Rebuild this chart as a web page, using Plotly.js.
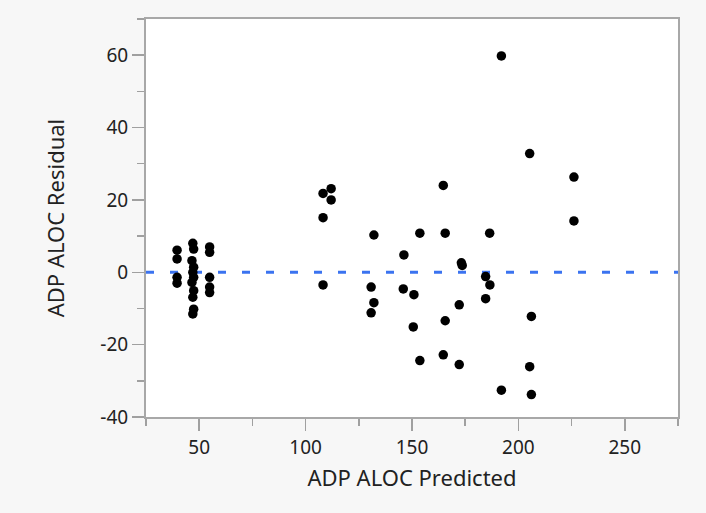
<!DOCTYPE html>
<html>
<head>
<meta charset="utf-8">
<script src="https://cdn.plot.ly/plotly-3.0.1.min.js"></script>
<style>html,body{margin:0;padding:0;background:#f7f7f7;}#chart{width:706px;height:513px;}</style>
</head>
<body>
<div id="chart"></div>
<script>
const predicted = [
  39.6, 39.6, 39.6, 39.6,
  47.0, 47.4, 46.6, 47.4, 47.0, 47.4, 46.6, 47.4, 47.0, 47.4, 47.0,
  54.9, 54.9, 54.9, 54.9, 54.9,
  108.2, 112.0, 112.0, 108.2, 108.2,
  132.1, 130.8, 132.1, 130.8,
  146.2, 145.9, 150.9, 150.6, 153.7, 153.7,
  164.7, 165.6, 172.2, 165.6, 164.7, 172.2, 173.2, 173.6,
  186.5, 184.6, 186.6, 184.6,
  192.0, 192.0,
  205.3, 206.1, 205.3, 206.1,
  226.1, 226.1
];
const residual = [
  6.1, 3.7, -1.4, -3.0,
  8.0, 6.4, 3.2, 1.4, 0.0, -1.4, -2.8, -5.1, -6.9, -10.2, -11.5,
  7.0, 5.5, -1.4, -4.1, -5.6,
  21.8, 23.1, 20.0, 15.1, -3.5,
  10.3, -4.1, -8.4, -11.2,
  4.8, -4.6, -6.2, -15.1, 10.8, -24.4,
  24.0, 10.8, -9.0, -13.4, -22.8, -25.5, 2.6, 1.9,
  10.8, -1.2, -3.5, -7.3,
  59.8, -32.6,
  32.8, -12.2, -26.1, -33.8,
  26.3, 14.2
];
const zeroLineX = [25, 275];
const zeroLineY = [0, 0];
const xTickVals = [50, 100, 150, 200, 250];
const yTickVals = [-40, -20, 0, 20, 40, 60];
const yTickText = ['-40', '-20', '0', '20', '40', '60'];

const font = "'Noto Sans', 'Open Sans', sans-serif";
const traces = [
  {
    x: zeroLineX, y: zeroLineY, mode: 'lines', type: 'scatter',
    line: {color: '#3b73f0', width: 3, dash: '8px,16px'},
    hoverinfo: 'skip', showlegend: false
  },
  {
    x: predicted, y: residual, mode: 'markers', type: 'scatter',
    marker: {color: '#000000', size: 9.5},
    showlegend: false
  }
];
const layout = {
  width: 706, height: 513,
  paper_bgcolor: '#f7f7f7', plot_bgcolor: '#ffffff',
  margin: {l: 146, r: 28, t: 19, b: 96},
  font: {family: font, size: 14, color: '#222'},
  xaxis: {
    range: [25, 275], tickvals: xTickVals, ticks: 'outside', ticklen: 12, tickwidth: 1.5,
    tickcolor: '#a0a0a0', showline: true, linecolor: '#a8a8a8', linewidth: 2, mirror: true,
    showgrid: false, zeroline: false, tickfont: {size: 19, family: font, color: '#222'},
    minor: {dtick: 25, tick0: 0, ticks: 'outside', ticklen: 7, tickcolor: '#a0a0a0', tickwidth: 1.5, showgrid: false},
    title: {text: 'ADP ALOC Predicted', font: {size: 22, family: font, color: '#222'}, standoff: 12}
  },
  yaxis: {
    range: [-40, 70], tickvals: yTickVals, ticktext: yTickText, ticks: 'outside', ticklen: 12, tickwidth: 1.5,
    tickcolor: '#a0a0a0', showline: true, linecolor: '#a8a8a8', linewidth: 2, mirror: true,
    showgrid: false, zeroline: false, tickfont: {size: 19, family: font, color: '#222'},
    minor: {dtick: 10, tick0: 0, ticks: 'outside', ticklen: 7, tickcolor: '#a0a0a0', tickwidth: 1.5, showgrid: false},
    title: {text: 'ADP ALOC Residual', font: {size: 22, family: font, color: '#222'}, standoff: 30}
  }
};
Plotly.newPlot('chart', traces, layout, {displayModeBar: false, staticPlot: true});
</script>
</body>
</html>
